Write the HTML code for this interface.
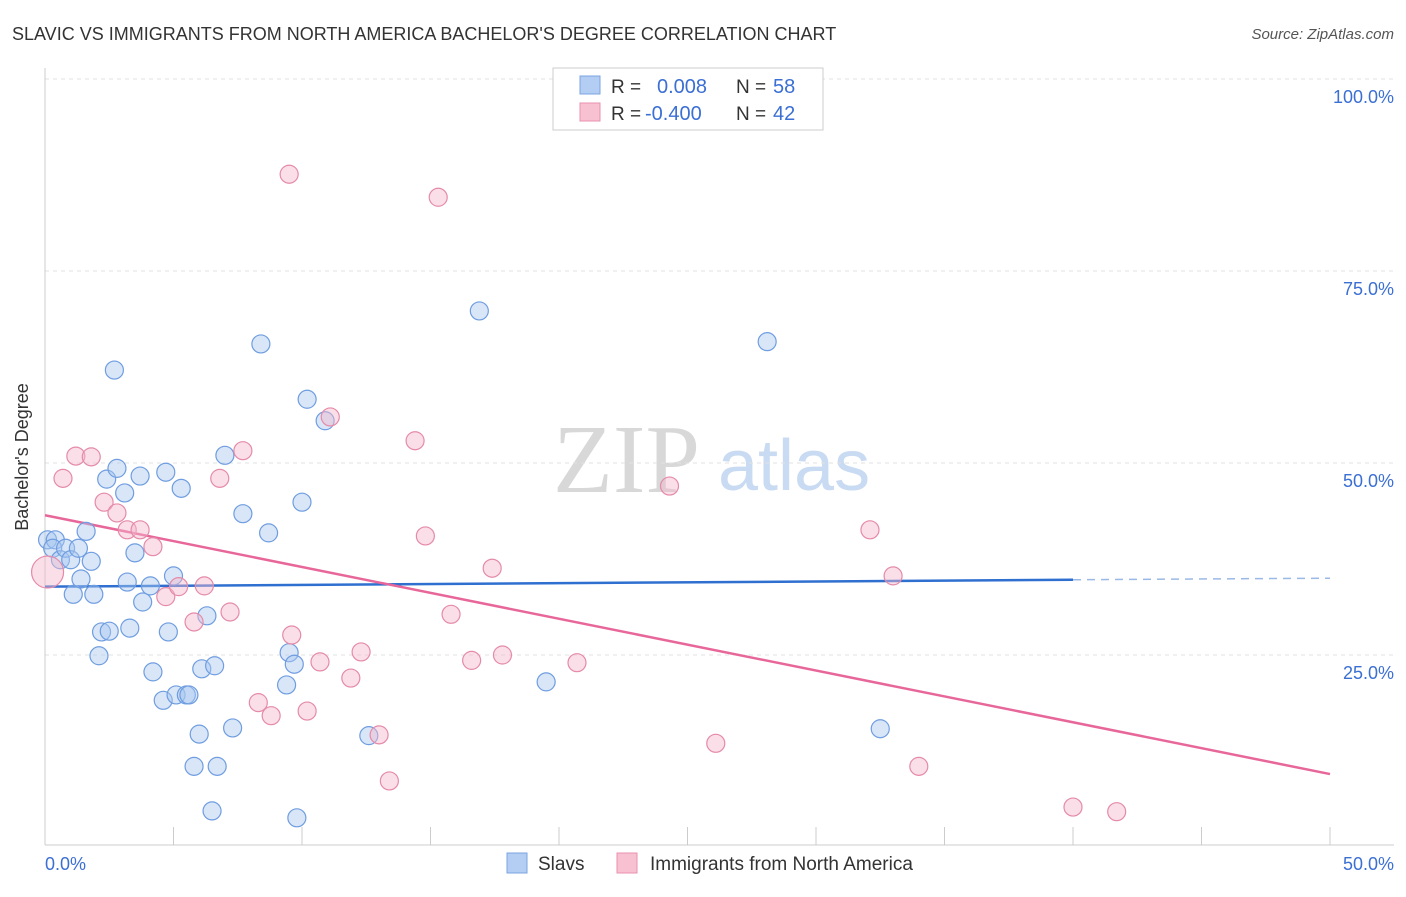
<!DOCTYPE html>
<html><head><meta charset="utf-8"><style>
body{margin:0;background:#fff;font-family:"Liberation Sans",sans-serif;}
svg text{font-family:"Liberation Sans",sans-serif;}
</style></head><body>
<svg id="c" width="1406" height="892" xmlns="http://www.w3.org/2000/svg">
<text x="12" y="40" font-size="18" fill="#333">SLAVIC VS IMMIGRANTS FROM NORTH AMERICA BACHELOR'S DEGREE CORRELATION CHART</text>
<text x="1394" y="39" font-size="15" fill="#555" font-style="italic" text-anchor="end">Source: ZipAtlas.com</text>
<g>
<text x="553" y="492" font-size="98" style="font-family:'Liberation Serif',serif" fill="#d8d8d8">ZIP</text>
<text x="718" y="490" font-size="72" fill="#c9dbf2">atlas</text>
</g>
<g id="grid"></g><g id="axes"></g><g id="lines"></g><g id="pts"></g>
<text x="28" y="457" font-size="18" fill="#333" text-anchor="middle" transform="rotate(-90 28 457)">Bachelor's Degree</text>
<text x="45" y="870" font-size="18" fill="#3b6fd4">0.0%</text>
<text x="1394" y="870" font-size="18" fill="#3b6fd4" text-anchor="end">50.0%</text>
<g>
<rect x="553" y="68" width="270" height="62" fill="#fff" stroke="#ccc"/>
<rect x="580" y="76" width="20" height="18" fill="#b3cdf3" stroke="#7aa5e0"/>
<rect x="580" y="103" width="20" height="18" fill="#f7c1d2" stroke="#e891ae"/>
<text x="611" y="93" font-size="19" fill="#333">R =</text><text x="657" y="93" font-size="20" fill="#3b6fd4">0.008</text>
<text x="736" y="93" font-size="19" fill="#333">N =</text><text x="773" y="93" font-size="20" fill="#3b6fd4">58</text>
<text x="611" y="120" font-size="19" fill="#333">R =</text><text x="645" y="120" font-size="20" fill="#3b6fd4">-0.400</text>
<text x="736" y="120" font-size="19" fill="#333">N =</text><text x="773" y="120" font-size="20" fill="#3b6fd4">42</text>
</g>
<g>
<rect x="507" y="853" width="20" height="20" fill="#b3cdf3" stroke="#7aa5e0"/>
<text x="538" y="870" font-size="19" fill="#333">Slavs</text>
<rect x="617" y="853" width="20" height="20" fill="#f7c1d2" stroke="#e891ae"/>
<text x="650" y="870" font-size="19" fill="#333">Immigrants from North America</text>
</g>
</svg>
<script>
const yTicks=[25,50,75,100];
const yTickLabels=["25.0%","50.0%","75.0%","100.0%"];
const xTicks=[0,5,10,15,20,25,30,35,40,45,50];
const slavX=[0.1,0.4,0.3,0.6,0.8,1.0,1.3,1.1,1.4,1.6,1.8,1.9,2.1,2.2,2.5,2.4,2.7,2.8,3.1,3.2,3.3,3.5,3.7,3.8,4.1,4.2,4.6,4.7,4.8,5.0,5.1,5.3,5.5,5.6,5.8,6.0,6.1,6.3,6.5,6.6,6.7,7.0,7.3,7.7,8.4,8.7,9.4,9.5,9.7,9.8,10.0,10.2,10.9,12.6,16.9,19.5,28.1,32.5];
const slavY=[40.0,40.0,38.9,37.4,38.9,37.4,38.9,32.9,34.9,41.1,37.2,32.9,24.9,28.0,28.1,47.9,62.1,49.3,46.1,34.5,28.5,38.3,48.3,31.9,34.0,22.8,19.1,48.8,28.0,35.3,19.8,46.7,19.8,19.8,10.5,14.7,23.2,30.1,4.7,23.6,10.5,51.0,15.5,43.4,65.5,40.9,21.1,25.3,23.8,3.8,44.9,58.3,55.5,14.5,69.8,21.5,65.8,15.4];
const immX=[0.1,0.7,1.2,1.8,2.3,2.8,3.2,3.7,4.2,4.7,5.2,5.8,6.2,6.8,7.2,7.7,8.3,8.8,9.5,9.6,10.2,10.7,11.1,11.9,12.3,13.0,13.4,14.4,14.8,15.3,15.8,16.6,17.4,17.8,20.7,24.3,26.1,32.1,33.0,34.0,40.0,41.7];
const immY=[35.8,48.0,50.9,50.8,44.9,43.5,41.3,41.3,39.1,32.6,33.9,29.3,34.0,48.0,30.6,51.6,18.8,17.1,87.6,27.6,17.7,24.1,56.0,22.0,25.4,14.6,8.6,52.9,40.5,84.6,30.3,24.3,36.3,25.0,24.0,47.0,13.5,41.3,35.3,10.5,5.2,4.6];
const slavTrend=[33.9,34.8,35.0]; // at x=0, 40, 50
const immTrend=[43.2,9.5]; // at x=0, 50
const NS="http://www.w3.org/2000/svg";
const X=v=>45+v*25.7, Y=v=>847-v*7.68;
function mk(t,a,p){const e=document.createElementNS(NS,t);for(const k in a)e.setAttribute(k,a[k]);document.getElementById(p).appendChild(e);return e;}
yTicks.forEach((t,i)=>{
 const g=mk('line',{x1:45,x2:1394,y1:Y(t),y2:Y(t),stroke:'#e2e2e2','stroke-dasharray':'4 4'},'grid');
 
 
 const l=mk('text',{x:1394,y:Y(t)+24,'font-size':18,fill:'#3b6fd4','text-anchor':'end'},'grid');
 l.textContent=yTickLabels[i];
 
 
});
const ax=mk('line',{x1:45,x2:1394,y1:845,y2:845,stroke:'#ccc'},'axes');


const ay=mk('line',{x1:45,x2:45,y1:68,y2:845,stroke:'#ccc'},'axes');


xTicks.forEach(t=>{const e=mk('line',{x1:X(t),x2:X(t),y1:827,y2:845,stroke:'#ccc'},'axes');
 
 });
function dots(xs,ys,fill,stroke,name){xs.forEach((x,i)=>{const r=(name==='imm-point'&&i===0)?16:9;
 const c=mk('circle',{cx:X(x),cy:Y(ys[i]),r:r,fill:fill,'fill-opacity':0.45,stroke:stroke,'stroke-width':1.2},'pts');
 
 });}
dots(slavX,slavY,'#a9c8f0','#6f9de0','slav-point');
dots(immX,immY,'#f5b8cb','#e58aa9','imm-point');
let l1=mk('line',{x1:X(0),y1:Y(slavTrend[0]),x2:X(40),y2:Y(slavTrend[1]),stroke:'#2f6fd0','stroke-width':2.5},'lines');


let l2=mk('line',{x1:X(40),y1:Y(slavTrend[1]),x2:X(50),y2:Y(slavTrend[2]),stroke:'#9bb9e6','stroke-width':1.5,'stroke-dasharray':'8 6'},'lines');


let l3=mk('line',{x1:X(0),y1:Y(immTrend[0]),x2:X(50),y2:Y(immTrend[1]),stroke:'#e8679a','stroke-width':2.5},'lines');


</script>
</body></html>
